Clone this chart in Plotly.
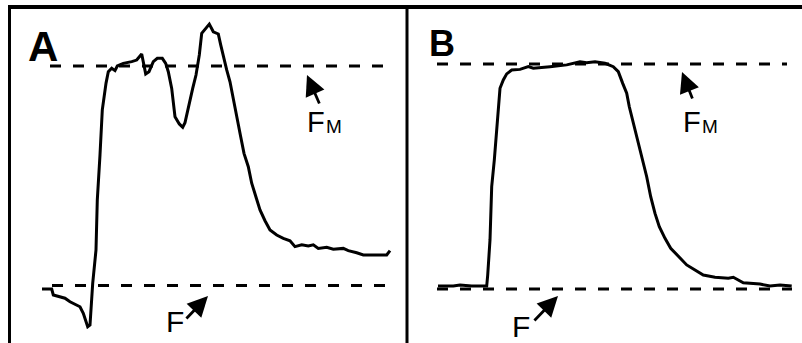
import plotly.graph_objects as go

# Chlorophyll fluorescence induction traces, normalised so that F = 0 and FM = 1.
# Time is in arbitrary units from the start of each recording.

# Panel A
time_a = [0.0, 0.97, 1.13, 2.3, 2.8, 3.3, 3.8, 4.13, 4.4, 4.57, 4.8, 4.97, 5.07, 5.4,
          5.53, 5.8, 6.03, 6.4, 6.63, 6.97, 7.3, 7.53, 8.13, 8.97, 9.47, 9.97, 10.2,
          10.37, 10.7, 11.13, 11.53, 12.03, 12.37, 12.63, 12.97, 13.3, 13.73, 14.07,
          14.3, 14.63, 15.07, 15.4, 15.73, 15.97, 16.3, 16.73, 17.13, 17.63, 17.87,
          18.13, 18.47, 18.8, 19.13, 19.53, 19.87, 20.2, 20.63, 20.97, 21.4, 21.8,
          22.3, 22.8, 23.47, 24.13, 24.8, 25.3, 25.97, 26.63, 27.13, 27.63, 28.47,
          29.13, 30.13, 30.63, 31.47, 32.13, 33.13, 34.47, 34.8]
fluor_a = [-0.016, -0.016, -0.043, -0.058, -0.074, -0.084, -0.097, -0.127, -0.165,
           -0.188, -0.18, -0.036, 0.01, 0.162, 0.39, 0.595, 0.8, 0.921, 0.974, 0.99,
           0.979, 1.0, 1.012, 1.02, 1.027, 1.055, 0.997, 0.964, 0.974, 1.02, 1.035,
           1.035, 1.012, 0.974, 0.898, 0.769, 0.736, 0.721, 0.742, 0.815, 0.898,
           0.959, 1.05, 1.149, 1.167, 1.191, 1.156, 1.146, 1.096, 1.042, 0.982,
           0.928, 0.845, 0.754, 0.678, 0.602, 0.541, 0.466, 0.405, 0.344, 0.295,
           0.253, 0.23, 0.215, 0.204, 0.177, 0.185, 0.18, 0.185, 0.169, 0.174,
           0.165, 0.169, 0.159, 0.149, 0.139, 0.139, 0.139, 0.159]

# Panel B
time_b = [0.0, 1.53, 2.2, 3.37, 4.87, 4.97, 5.2, 5.37, 5.63, 5.8, 6.03, 6.2, 6.53,
          6.87, 7.37, 8.2, 9.03, 9.53, 11.2, 12.87, 14.2, 14.87, 15.7, 16.7, 17.53,
          18.03, 18.47, 18.87, 19.13, 19.53, 19.93, 20.37, 20.87, 21.27, 21.7,
          22.13, 22.7, 23.27, 24.03, 24.87, 25.7, 26.53, 27.7, 29.03, 29.53, 30.53,
          32.2, 33.2, 34.2, 35.37]
fluor_b = [0.013, 0.013, 0.018, 0.013, 0.013, 0.062, 0.218, 0.455, 0.573, 0.677,
           0.81, 0.892, 0.929, 0.956, 0.973, 0.976, 0.988, 0.981, 0.988, 0.996,
           1.01, 1.006, 1.01, 1.003, 0.988, 0.966, 0.914, 0.87, 0.81, 0.736, 0.662,
           0.588, 0.499, 0.41, 0.336, 0.277, 0.225, 0.181, 0.144, 0.107, 0.084,
           0.062, 0.052, 0.048, 0.052, 0.028, 0.022, 0.013, 0.018, 0.013]

# Reference levels and the time span of each dashed guide line
f0_level = 0.0
fm_level = 1.0
guide_a_fm = [0.8, 35.0]
guide_a_f0 = [1.0, 35.0]
guide_b_fm = [-0.1, 34.9]
guide_b_f0 = [-0.1, 35.4]

W, H = 802, 343
font_family = "Liberation Sans, Arial, sans-serif"

fig = go.Figure()

line_style = dict(color="black", width=3)
dash_style = dict(color="black", width=3.2, dash="11px,12px")

# Panel A traces
fig.add_trace(go.Scatter(x=guide_a_fm, y=[fm_level] * 2, mode="lines", line=dash_style,
                         xaxis="x", yaxis="y", hoverinfo="skip"))
fig.add_trace(go.Scatter(x=guide_a_f0, y=[f0_level] * 2, mode="lines", line=dash_style,
                         xaxis="x", yaxis="y", hoverinfo="skip"))
fig.add_trace(go.Scatter(x=time_a, y=fluor_a, mode="lines", line=line_style,
                         xaxis="x", yaxis="y"))

# Panel B traces
fig.add_trace(go.Scatter(x=guide_b_fm, y=[fm_level] * 2, mode="lines", line=dash_style,
                         xaxis="x2", yaxis="y2", hoverinfo="skip"))
fig.add_trace(go.Scatter(x=guide_b_f0, y=[f0_level] * 2, mode="lines", line=dash_style,
                         xaxis="x2", yaxis="y2", hoverinfo="skip"))
fig.add_trace(go.Scatter(x=time_b, y=fluor_b, mode="lines", line=line_style,
                         xaxis="x2", yaxis="y2"))

hidden = dict(visible=False, fixedrange=True)
fig.update_layout(
    width=W, height=H,
    margin=dict(l=0, r=0, t=0, b=0),
    paper_bgcolor="white", plot_bgcolor="white",
    showlegend=False,
    xaxis=dict(domain=[0, 0.5], range=[-4.2, 35.9], **hidden),
    yaxis=dict(domain=[0, 1], range=[-0.262, 1.3007], **hidden),
    xaxis2=dict(domain=[0.5, 1], range=[-3.7, 36.4], anchor="y2", **hidden),
    yaxis2=dict(domain=[0, 1], range=[-0.24, 1.2844], anchor="x2", **hidden),
)

# Panel frame: top rule, left rule and the divider between panels
frame = dict(color="black", width=3)
fig.add_shape(type="line", xref="paper", yref="paper", x0=0.0118, x1=1,
              y0=1 - 7 / H, y1=1 - 7 / H, line=dict(color="black", width=4))
fig.add_shape(type="line", xref="paper", yref="paper", x0=9.5 / W, x1=9.5 / W,
              y0=0, y1=1 - 5 / H, line=frame)
fig.add_shape(type="line", xref="paper", yref="paper", x0=407 / W, x1=407 / W,
              y0=0, y1=1 - 5 / H, line=frame)


def label(text, x, y, size, axes, bold=False):
    xr, yr = axes
    fig.add_annotation(
        text=f"<b>{text}</b>" if bold else text, x=x, y=y, xref=xr, yref=yr,
        showarrow=False, xanchor="center", yanchor="middle", borderpad=0,
        font=dict(family=font_family, size=size, color="black"),
    )


def arrow(x, y, ax, ay, axes):
    xr, yr = axes
    fig.add_annotation(
        text="", x=x, y=y, xref=xr, yref=yr, ax=ax, ay=ay,
        showarrow=True, arrowhead=2, arrowsize=1.45, arrowwidth=2.8,
        arrowcolor="black", standoff=0,
    )


A = ("x", "y")
B = ("x2", "y2")

# Panel A labels
label("A", 0.1, 1.087, 42, A, bold=True)
label("F", 27.4, 0.743, 29, A)
label("M", 29.15, 0.724, 19, A)
arrow(26.5, 0.959, 13, 30, A)
label("F", 13.25, -0.162, 30, A)
arrow(16.6, -0.048, -23, 24, A)

# Panel B labels
label("B", 0.35, 1.089, 36, B, bold=True)
label("F", 25.35, 0.74, 29, B)
label("M", 27.15, 0.724, 19, B)
arrow(24.4, 0.964, 11, 28, B)
label("F", 8.25, -0.168, 30, B)
arrow(12.0, -0.031, -25, 26, B)

fig.write_html("out.html", config={"displayModeBar": False})
